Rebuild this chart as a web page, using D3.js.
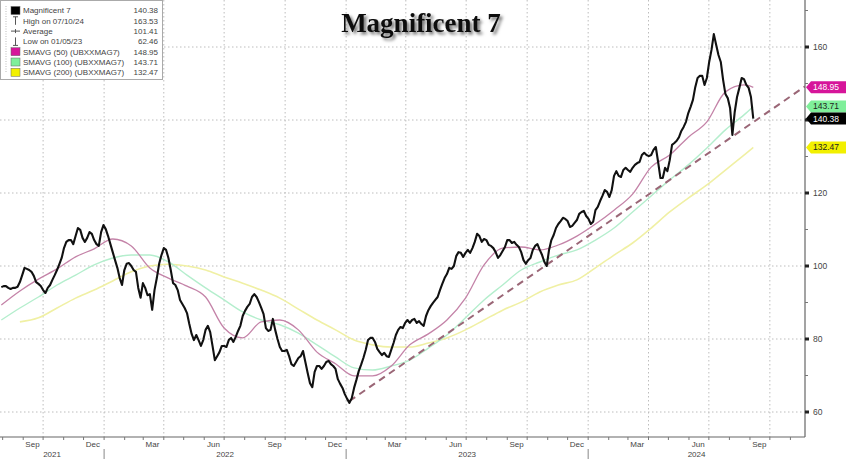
<!DOCTYPE html>
<html><head><meta charset="utf-8">
<script src="https://cdn.jsdelivr.net/npm/d3@7"></script>
<style>
body{margin:0;background:#fff;}
svg{display:block;font-family:"Liberation Sans",Arial,sans-serif;}
</style>
</head><body>
<svg id="c" width="848" height="459"></svg>
<script>
// ---------------- DATA ----------------
const seriesStart = "2021-07-30";           // Friday closes, weekly
const fridayValues = [
 94.2,94.5,93.7,94.0,95.6,99.5,98.9,97.3,95.1,93.4,
 94.0,96.2,98.9,102.2,106.6,107.1,108.2,109.9,106.6,109.3,
 107.1,105.5,111.2,108.2,103.8,99.5,94.8,100.6,100.0,98.4,
 91.3,94.0,92.3,93.4,100.6,104.9,102.2,95.3,93.4,89.6,
 87.1,81.4,81.1,78.1,82.5,81.9,74.2,76.4,78.1,79.7,
 79.2,82.2,86.3,88.8,91.5,91.5,88.5,83.0,82.5,82.5,
 77.8,76.7,75.3,72.6,74.8,76.7,70.7,66.8,72.6,71.8,
 73.7,73.1,71.8,67.7,64.9,62.5,66.6,71.2,74.8,79.7,
 80.3,77.3,75.6,75.3,77.0,81.1,83.3,84.4,84.4,85.5,
 84.9,83.6,87.9,89.9,91.5,95.1,97.8,99.2,102.7,103.6,
 103.6,103.6,106.6,108.2,107.4,105.8,104.9,102.2,104.1,107.1,
 106.3,105.8,103.8,100.6,102.2,105.5,104.4,101.1,104.4,108.5,
 111.5,113.2,112.3,111.0,112.6,114.8,113.7,111.5,115.3,117.8,
 120.8,118.9,124.7,124.7,126.3,126.3,126.9,128.2,130.4,130.4,
 130.4,132.6,124.1,126.9,129.0,133.7,135.3,138.1,141.9,145.5,
 151.5,152.1,151.5,159.2,160.6,155.9,147.1,143.3,142.2,148.8,
 151.2,148.8,140.38
];
// mid-week closes (between consecutive Fridays)
const midweekValues = [
 94.5,94.0,94.0,94.3,97.5,99.2,98.4,95.6,94.5,92.6,
 94.8,97.5,100.5,104.9,107.1,106.0,110.4,107.7,107.7,108.8,
 106.0,109.3,110.1,106.0,101.6,96.7,98.9,100.8,98.9,94.0,
 95.3,92.0,88.0,96.7,103.0,104.4,98.9,94.8,90.7,88.5,
 84.1,79.7,79.7,79.7,83.6,78.1,75.3,78.1,77.8,80.3,
 80.6,83.6,87.7,89.6,92.3,90.1,86.8,82.2,85.5,80.0,
 76.7,77.0,73.1,73.7,75.3,73.7,67.9,71.0,72.6,72.6,
 74.0,72.6,69.0,66.6,63.6,63.8,68.8,72.9,77.0,80.3,
 79.2,76.4,76.2,75.1,78.9,82.5,83.0,85.2,85.2,84.4,
 84.1,86.3,89.0,90.7,93.4,96.7,99.5,100.0,103.8,102.5,
 104.4,104.9,108.8,106.6,107.1,105.5,103.8,103.0,105.2,107.1,
 106.6,105.2,101.6,101.6,104.4,106.0,103.0,100.0,107.1,110.4,
 112.3,112.9,110.7,111.8,114.3,115.1,112.9,112.1,116.2,119.2,
 120.3,120.8,126.0,124.4,126.9,125.8,127.7,128.5,131.0,130.1,
 131.8,128.5,124.1,126.0,133.2,134.3,137.0,139.5,143.6,149.0,
 152.1,149.6,155.9,163.53,157.8,151.0,146.0,135.9,146.3,151.5,
 149.6,146.3
];
// moving averages sampled every 4 weeks of the weekly grid (+ last point)
const sma50 = [89.3,93.15,96.4,99.2,102.5,104.7,107.4,105.5,99.45,96.7,
 94.5,91.5,83.0,80.3,84.7,85.2,82.5,76.4,73.2,69.9,
 69.9,72.6,78.4,81.4,85.2,91.2,100.3,104.9,105.2,104.4,
 105.75,108.2,111.5,115.3,119.7,127.1,130.4,135.3,139.5,147.7,
 149.6,148.95];
const sma100 = [85.2,88.5,91.5,94.8,97.5,100.3,102.2,103.0,103.0,101.1,
 97.5,94.0,90.7,87.4,85.2,83.9,81.6,78.4,75.1,72.1,
 71.5,72.6,74.2,77.5,81.1,85.8,90.7,94.8,98.9,101.1,
 103.0,104.4,107.1,110.4,114.8,119.2,123.6,127.7,132.3,137.3,
 141.4,143.71];
const sma200 = [null,84.7,85.8,88.5,91.2,93.4,95.9,98.4,100.0,100.5,
 100.0,98.9,97.0,95.3,93.4,91.2,88.2,85.2,82.5,79.7,
 78.4,77.8,77.8,78.9,80.3,82.5,85.2,87.9,90.1,92.9,
 94.8,96.2,99.5,103.0,106.3,110.4,114.8,118.6,122.2,126.3,
 130.4,132.47];
const trendDates = ["2023-01-06","2024-11-23"];
const trendValues = [63.0, 149.2];
const yMajorTicks = [60,80,100,120,140,160];
const yLabelTicks = [60,80,100,120,160];
const monthLabels = ["Jan","Feb","Mar","Apr","May","Jun","Jul","Aug","Sep","Oct","Nov","Dec"];
const legendLabels = ["Magnificent 7","High on 07/10/24","Average","Low on 01/05/23",
  "SMAVG (50) (UBXXMAG7)","SMAVG (100) (UBXXMAG7)","SMAVG (200) (UBXXMAG7)"];
const legendValues = ["140.38","163.53","101.41","62.46","148.95","143.71","132.47"];
const tagValues = [148.95, 143.71, 140.38, 132.47];
const tagLabels = ["148.95","143.71","140.38","132.47"];
const titleText = "Magnificent 7";

// ---------------- SETUP ----------------
const W = 848, H = 459;
const plotRight = 805, plotBottom = 437;
const svg = d3.select("#c");
const parse = d3.timeParse("%Y-%m-%d");
const d0 = parse(seriesStart);
const weekDates = fridayValues.map((v,i)=>d3.timeDay.offset(d0, 7*i));
const series = [];
fridayValues.forEach((v,i)=>{
  series.push([weekDates[i], v]);
  if (i < midweekValues.length) series.push([d3.timeHour.offset(weekDates[i], 84), midweekValues[i]]);
});
const maIdx = d3.range(0,161,4).concat([162]);
const maDates = maIdx.map(i=>weekDates[i]);

const x = d3.scaleTime().domain([parse("2021-07-28"), parse("2024-11-23")]).range([0, plotRight]);
const y = d3.scaleLinear().domain([60,160]).range([412,47]);

svg.append("rect").attr("width",W).attr("height",H).attr("fill","#fff");

const defs = svg.append("defs");
defs.append("clipPath").attr("id","plotclip")
  .append("rect").attr("x",0).attr("y",0).attr("width",plotRight).attr("height",plotBottom);
const f = defs.append("filter").attr("id","tshadow").attr("x","-10%").attr("y","-30%").attr("width","130%").attr("height","180%");
f.append("feDropShadow").attr("dx",2.5).attr("dy",2.5).attr("stdDeviation",1.6).attr("flood-color","#000").attr("flood-opacity",0.55);

// grid
const gridColor = "#bdbdbd";
const quarterStarts = d3.timeMonth.range(parse("2021-08-01"), parse("2024-11-23")).filter(d=>[0,3,6,9].includes(d.getMonth()));
svg.append("g").selectAll("line").data(quarterStarts).join("line")
  .attr("x1",d=>x(d)).attr("x2",d=>x(d)).attr("y1",0).attr("y2",plotBottom)
  .attr("stroke",gridColor).attr("stroke-width",1).attr("stroke-dasharray","1.5,2.5");
svg.append("g").selectAll("line").data(yMajorTicks).join("line")
  .attr("x1",0).attr("x2",plotRight).attr("y1",d=>y(d)).attr("y2",d=>y(d))
  .attr("stroke",gridColor).attr("stroke-width",1).attr("stroke-dasharray","1.5,2.5");

// lines
const plot = svg.append("g").attr("clip-path","url(#plotclip)");
const maLine = d3.line().defined(d=>d[1]!=null).x(d=>x(d[0])).y(d=>y(d[1])).curve(d3.curveMonotoneX);
plot.append("path").datum(maDates.map((d,i)=>[d,sma200[i]]))
  .attr("d",maLine).attr("fill","none").attr("stroke","#f0f0a4").attr("stroke-width",1.6);
plot.append("path").datum(maDates.map((d,i)=>[d,sma100[i]]))
  .attr("d",maLine).attr("fill","none").attr("stroke","#b4eecd").attr("stroke-width",1.4);
plot.append("path").datum(maDates.map((d,i)=>[d,sma50[i]]))
  .attr("d",maLine).attr("fill","none").attr("stroke","#c483a8").attr("stroke-width",1.3);

plot.append("path").datum(trendDates.map((d,i)=>[parse(d),trendValues[i]]))
  .attr("d",d3.line().x(d=>x(d[0])).y(d=>y(d[1])))
  .attr("fill","none").attr("stroke","#9a6676").attr("stroke-width",2).attr("stroke-dasharray","7,5");

plot.append("path").datum(series)
  .attr("d",d3.line().x(d=>x(d[0])).y(d=>y(d[1])))
  .attr("fill","none").attr("stroke","#111").attr("stroke-width",2.1).attr("stroke-linejoin","round");

// right axis
const axR = svg.append("g").attr("transform",`translate(${plotRight},0)`);
axR.append("line").attr("x1",0).attr("x2",0).attr("y1",0).attr("y2",plotBottom).attr("stroke","#666").attr("stroke-width",1.2);
axR.selectAll("rect.mt").data(yMajorTicks).join("rect").attr("class","mt")
  .attr("x",0).attr("y",d=>y(d)-1.5).attr("width",4).attr("height",3).attr("fill","#222");
axR.selectAll("line.mn").data(d3.range(70,175,20)).join("line").attr("class","mn")
  .attr("x1",0).attr("x2",3).attr("y1",d=>y(d)).attr("y2",d=>y(d)).attr("stroke","#777");
axR.selectAll("text").data(yLabelTicks).join("text")
  .attr("x",8).attr("y",d=>y(d)).attr("dy","0.35em")
  .attr("font-size",8.5).attr("fill","#444").text(d=>d);

// bottom axis
svg.append("line").attr("x1",0).attr("x2",plotRight).attr("y1",plotBottom).attr("y2",plotBottom).attr("stroke","#666").attr("stroke-width",1.2);
const months = d3.timeMonth.range(parse("2021-08-01"), parse("2024-11-23"));
svg.append("g").selectAll("line").data(months).join("line")
  .attr("x1",d=>x(d)).attr("x2",d=>x(d)).attr("y1",plotBottom).attr("y2",plotBottom+3)
  .attr("stroke","#777");
const labelMonths = months.filter(d=>[2,5,8,11].includes(d.getMonth()))
  .map(d=>d3.timeDay.offset(d,14)).filter(d=>x(d)<plotRight);
svg.append("g").selectAll("text").data(labelMonths).join("text")
  .attr("x",d=>x(d)).attr("y",447).attr("text-anchor","middle")
  .attr("font-size",8).attr("fill","#444").text(d=>monthLabels[d.getMonth()]);
const yearStarts = [parse("2022-01-01"),parse("2023-01-01"),parse("2024-01-01")];
svg.append("g").selectAll("line").data(yearStarts).join("line")
  .attr("x1",d=>x(d)).attr("x2",d=>x(d)).attr("y1",449).attr("y2",H)
  .attr("stroke","#888");
const years = [2021,2022,2023,2024];
svg.append("g").selectAll("text").data(years).join("text")
  .attr("x",yr=>{const a=Math.max(0,x(new Date(yr,0,1))), b=Math.min(plotRight,x(new Date(yr+1,0,1)));return (a+b)/2;})
  .attr("y",457).attr("text-anchor","middle").attr("font-size",8).attr("fill","#444").text(d=>d);

// right tags
const tagFill = ["#d6159a","#7fef9a","#000000","#f2f000"];
const tagText = ["#fff","#222","#fff","#222"];
const tg = svg.append("g");
tagValues.forEach((v,i)=>{
  const yc = y(v), x0 = plotRight+1;
  tg.append("path").attr("d",`M${x0},${yc} L${x0+5},${yc-6} L${W-2},${yc-6} L${W-2},${yc+6} L${x0+5},${yc+6} Z`)
    .attr("fill",tagFill[i]);
  tg.append("text").attr("x",x0+7).attr("y",yc).attr("dy","0.35em").attr("font-size",8.5)
    .attr("fill",tagText[i]).text(tagLabels[i]);
});

// title
svg.append("text").attr("x",421).attr("y",32).attr("text-anchor","middle")
  .attr("font-family","'Liberation Serif','DejaVu Serif',serif").attr("font-weight","bold")
  .attr("font-size",27).attr("fill","#111").attr("filter","url(#tshadow)").text(titleText);

// legend
const lg = svg.append("g");
lg.append("rect").attr("x",0.5).attr("y",0.5).attr("width",162).attr("height",79)
  .attr("fill","#fff").attr("stroke","#aaa");
lg.append("line").attr("x1",6).attr("x2",6).attr("y1",6).attr("y2",73).attr("stroke","#bbb").attr("stroke-dasharray","1,1.5");
const rowY = d3.range(7).map(i=>10.5+i*10.3);
const swatch = ["#000",null,null,null,"#d6159a","#7fef9a","#f2f000"];
legendLabels.forEach((t,i)=>{
  const yy = rowY[i];
  if (swatch[i]) {
    lg.append("rect").attr("x",11).attr("y",yy-4).attr("width",9).attr("height",8).attr("fill",swatch[i]).attr("stroke","#666").attr("stroke-width",0.5);
  } else if (i===1) {
    lg.append("line").attr("x1",15.5).attr("x2",15.5).attr("y1",yy-4).attr("y2",yy+4).attr("stroke","#555");
    lg.append("line").attr("x1",13).attr("x2",18).attr("y1",yy-4).attr("y2",yy-4).attr("stroke","#555");
  } else if (i===2) {
    lg.append("line").attr("x1",11).attr("x2",20).attr("y1",yy).attr("y2",yy).attr("stroke","#555");
    lg.append("line").attr("x1",15.5).attr("x2",15.5).attr("y1",yy-2).attr("y2",yy+2).attr("stroke","#555");
  } else {
    lg.append("line").attr("x1",15.5).attr("x2",15.5).attr("y1",yy-4).attr("y2",yy+4).attr("stroke","#555");
    lg.append("line").attr("x1",13).attr("x2",18).attr("y1",yy+4).attr("y2",yy+4).attr("stroke","#555");
  }
  lg.append("text").attr("x",23).attr("y",yy).attr("dy","0.35em").attr("font-size",8).attr("fill","#444").text(t);
  lg.append("text").attr("x",158).attr("y",yy).attr("dy","0.35em").attr("text-anchor","end").attr("font-size",8).attr("fill","#444").text(legendValues[i]);
});
</script>
</body></html>
